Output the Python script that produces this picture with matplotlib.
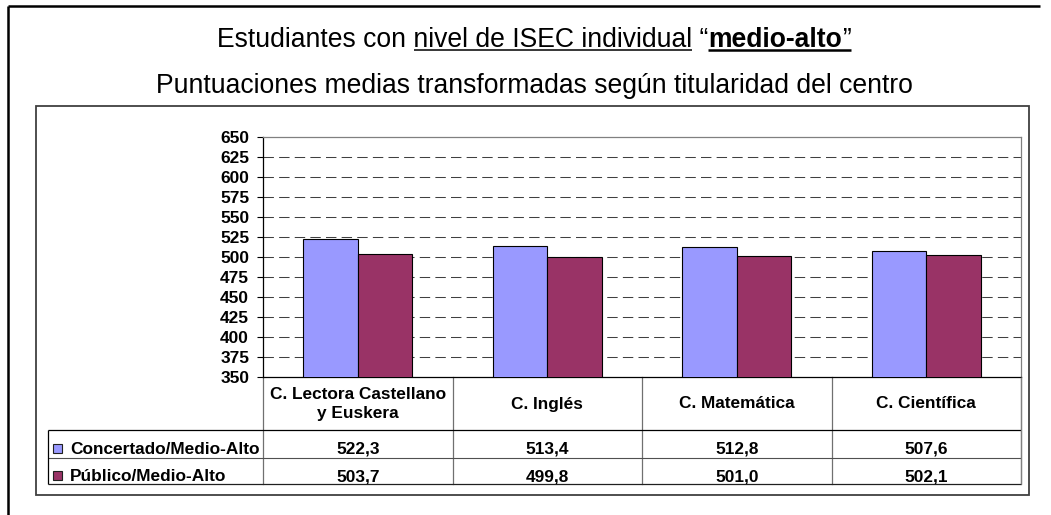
import numpy as np
import matplotlib
matplotlib.use("Agg")
import matplotlib.pyplot as plt
from matplotlib.lines import Line2D
from matplotlib.patches import Rectangle
from matplotlib.transforms import blended_transform_factory

plt.rcParams['font.family'] = ['Liberation Sans', 'DejaVu Sans']

categories = ['C. Lectora Castellano\ny Euskera', 'C. Inglés', 'C. Matemática', 'C. Científica']
series_names = ['Concertado/Medio-Alto', 'Público/Medio-Alto']
concertado = [522.3, 513.4, 512.8, 507.6]
publico = [503.7, 499.8, 501.0, 502.1]
yticks = list(range(350, 651, 25))
colors = ['#9999FF', '#993366']

W, H = 1051, 515
fig = plt.figure(figsize=(W / 100, H / 100), dpi=100)
renderer = fig.canvas.get_renderer()
fs = 12.4


def fx(px):
    return px / W


def fy(py):
    return 1 - py / H


def fline(x0, y0, x1, y1, color='black', lw=0.75):
    fig.add_artist(Line2D([fx(x0), fx(x1)], [fy(y0), fy(y1)], color=color,
                          lw=lw, transform=fig.transFigure, solid_capstyle='butt'))


# frames
fline(8, 6, 8, 515, lw=1.8)
fline(8, 6, 1040, 6, lw=1.8)
fig.add_artist(Rectangle((fx(36), fy(495)), fx(1029) - fx(36), (495 - 106) / H,
                         fill=False, edgecolor='#404040', lw=1.3, transform=fig.transFigure))

# titles
tsize = 19.1


def tw(s, **kw):
    t = fig.text(0, 0, s, fontsize=tsize, **kw)
    w = t.get_window_extent(renderer).width
    t.remove()
    return w


part_a = 'Estudiantes con nivel de ISEC individual “'
part_b = 'medio-alto'
part_c = '”'
wa, wb, wc = tw(part_a), tw(part_b, fontweight='bold'), tw(part_c)
x0 = 534 - (wa + wb + wc) / 2
base1 = 47
fig.text(fx(x0), fy(base1), part_a, fontsize=tsize, va='baseline')
fig.text(fx(x0 + wa), fy(base1), part_b, fontsize=tsize, fontweight='bold', va='baseline')
fig.text(fx(x0 + wa + wb), fy(base1), part_c, fontsize=tsize, va='baseline')
ul1_start = x0 + tw('Estudiantes con n') - tw('n')
ul1_end = x0 + tw('Estudiantes con nivel de ISEC individual')
fline(ul1_start, base1 + 3, ul1_end, base1 + 3, lw=1.1)
fline(x0 + wa, base1 + 3, x0 + wa + wb + wc, base1 + 3, lw=1.8)

fig.text(fx(534), fy(93), 'Puntuaciones medias transformadas según titularidad del centro',
         fontsize=tsize, ha='center', va='baseline')

# plot area
ax = fig.add_axes([fx(263), fy(377), fx(1021) - fx(263), (377 - 137) / H])
x = np.arange(len(categories))
bw = 0.2885
ax.bar(x - bw / 2, concertado, bw, color=colors[0], edgecolor='black', lw=0.8, zorder=3)
ax.bar(x + bw / 2, publico, bw, color=colors[1], edgecolor='black', lw=0.8, zorder=3)
ax.set_xlim(-0.5, len(categories) - 0.5)
ax.set_ylim(yticks[0], yticks[-1])
ax.set_xticks([])
ax.set_yticks(yticks)
ax.set_yticklabels([str(v) for v in yticks], fontsize=fs, fontweight='bold')
ax.tick_params(axis='y', length=4, width=0.8, pad=6, color='black')
ax.hlines(yticks[1:-1], -0.5, len(categories) - 0.5, colors='#404040', lw=0.75,
          linestyles=(0, (10, 5)), zorder=1)
for side in ['left', 'bottom']:
    ax.spines[side].set_color('black')
    ax.spines[side].set_linewidth(0.9)
for side in ['top', 'right']:
    ax.spines[side].set_color('#808080')
    ax.spines[side].set_linewidth(0.9)

# data table under the plot
head_top, head_bot, row1_bot, row2_bot = 377, 430, 458, 484
leg_left, right = 48, 1021
fline(leg_left, head_bot, right, head_bot, color='black', lw=0.9)
fline(leg_left, row1_bot, right, row1_bot, color='#505050', lw=0.8)
fline(leg_left, row2_bot, right, row2_bot, color='#202020', lw=0.9)
fline(leg_left, head_bot, leg_left, row2_bot, color='black', lw=0.9)
fline(right, head_top, right, row2_bot, color='#808080', lw=0.9)

bt = blended_transform_factory(ax.transData, fig.transFigure)
for i in range(len(categories) + 1):
    ax.add_line(Line2D([i - 0.5, i - 0.5], [fy(head_top), fy(row2_bot)], color='#707070',
                       lw=0.9, transform=bt, clip_on=False))

for i, cat in enumerate(categories):
    ax.text(i, fy(404), cat, transform=bt, ha='center', va='center', fontsize=fs,
            fontweight='bold', linespacing=1.3)
    ax.text(i, fy(454), f'{concertado[i]:.1f}'.replace('.', ','), transform=bt, ha='center',
            va='baseline', fontsize=fs, fontweight='bold')
    ax.text(i, fy(481), f'{publico[i]:.1f}'.replace('.', ','), transform=bt, ha='center',
            va='baseline', fontsize=fs, fontweight='bold')

for name, col, base in zip(series_names, colors, [454, 481]):
    fig.add_artist(Rectangle((fx(53), fy(base - 1)), 9 / W, 9 / H, facecolor=col,
                             edgecolor='#202020', lw=0.8, transform=fig.transFigure))
    fig.text(fx(70), fy(base), name, fontsize=fs, fontweight='bold', va='baseline')

fig.savefig('out.png', dpi=100)
